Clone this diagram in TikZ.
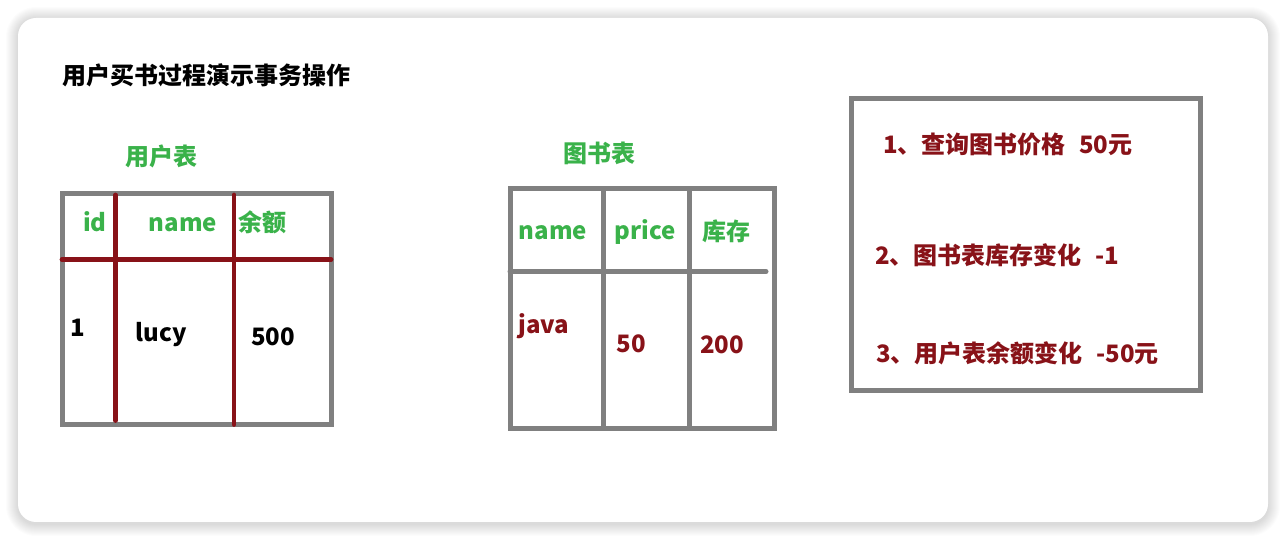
\documentclass[tikz,border=0pt]{standalone}
\usepackage{fontspec}
\setmainfont{Noto Sans CJK SC}
\definecolor{tabgreen}{RGB}{58,178,74}
\definecolor{tabred}{RGB}{136,18,24}
\definecolor{framegray}{RGB}{128,128,128}

\begin{document}
\begin{tikzpicture}[x=0.75pt,y=-0.75pt,
    txt/.style={font=\fontsize{18}{22}\selectfont\bfseries,inner sep=0pt},
    title/.style={txt,anchor=base west},
    head/.style={txt,text=tabgreen,anchor=base},
    cell/.style={txt,anchor=base},
    redcell/.style={txt,text=tabred,anchor=base},
    stepline/.style={txt,text=tabred,anchor=base west},
    frame/.style={draw=framegray,line width=3.75pt},
    redline/.style={draw=tabred,line width=3.6pt,line cap=round},
    grayline/.style={draw=framegray,line width=3.75pt},
]
    \useasboundingbox (0,0) rectangle (1286,541);
    \fill [white] (0,0) rectangle (1286,541);
    % card with soft shadow
    \foreach \s in {1,...,12}
        \fill [black,opacity=0.011,rounded corners=(13.5pt+0.75pt*\s)]
            (18-\s,18-\s+1) rectangle (1268+\s,522+\s+2);
    \fill [white,rounded corners=13.5pt] (18,18) rectangle (1268,522);

    \node [title] (title) at (62,85) {用户买书过程演示事务操作};

    % user table
    \node [head] (usertab) at (161,166) {用户表};
    \draw [frame] (62.5,193.5) rectangle (331.5,425);
    \draw [redline] (62,259.5) -- (331,259.5);
    \draw [redline] (115.5,195) -- (115.5,420.5);
    \draw [redline] (234,195) -- (234,424.5);
    \node [head] (uid) at (95,232) {id};
    \node [head] (uname) at (183,232) {name};
    \node [head] (ubal) at (262,232) {余额};
    \node [cell] (uidv) at (78,337) {1};
    \node [cell] (unamev) at (161,342) {lucy};
    \node [cell] (ubalv) at (273,346) {500};

    % book table
    \node [head] (booktab) at (599,163) {图书表};
    \draw [frame] (510,188.5) rectangle (774,429);
    \draw [grayline] (603.5,188.5) -- (603.5,429);
    \draw [grayline] (689.5,191) -- (689.5,429);
    \draw [grayline,line cap=round] (510,271.5) -- (766,271.5);
    \node [head] (bname) at (553,240) {name};
    \node [head] (bprice) at (645,240) {price};
    \node [head] (bstock) at (726,241) {库存};
    \node [redcell] (bnamev) at (544,334) {java};
    \node [redcell] (bpricev) at (631,352.5) {50};
    \node [redcell] (bstockv) at (722,354) {200};

    % steps
    \draw [frame] (851.5,98.5) rectangle (1200,390.5);
    \node [stepline] (step1) at (883,154) {1、查询图书价格\hspace{10pt}50元};
    \node [stepline] (step2) at (875,265) {2、图书表库存变化\hspace{10pt}-1};
    \node [stepline] (step3) at (876,363) {3、用户表余额变化\hspace{10pt}-50元};
\end{tikzpicture}
\end{document}
